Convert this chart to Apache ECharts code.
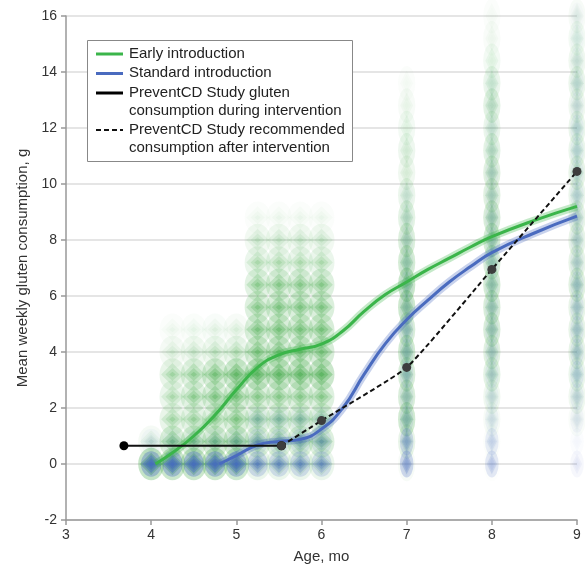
<!DOCTYPE html>
<html lang="en">
<head>
<meta charset="utf-8">
<title>Mean weekly gluten consumption</title>
<style>
  html, body { margin: 0; padding: 0; background: #fff; }
  #chart { width: 585px; height: 569px; }
</style>
</head>
<body>
<div id="chart"></div>
<script src="https://cdn.jsdelivr.net/npm/echarts@6/dist/echarts.min.js"></script>
<script>
  // fitted mean curves, g per week by age in months
  var earlyAge = [4.05, 4.25, 4.5, 4.75, 5, 5.25, 5.5, 5.75, 6, 6.25, 6.5, 6.75, 7, 7.25, 7.5, 7.75, 8, 8.5, 9];
  var earlyMean = [0, 0.4, 1.0, 1.75, 2.65, 3.45, 3.9, 4.1, 4.28, 4.75, 5.45, 6.05, 6.5, 6.95, 7.35, 7.75, 8.12, 8.7, 9.2];
  var standardAge = [4.8, 5, 5.25, 5.5, 5.75, 6, 6.25, 6.5, 6.75, 7, 7.25, 7.5, 7.75, 8, 8.5, 9];
  var standardMean = [0, 0.3, 0.68, 0.8, 0.88, 1.25, 2.0, 3.2, 4.3, 5.15, 5.85, 6.5, 7.05, 7.55, 8.25, 8.85];

  // PreventCD study amounts
  var duringAge = [3.68, 5.53];
  var duringAmount = [0.65, 0.65];
  var afterAge = [5.53, 6, 7, 8, 9];
  var afterAmount = [0.65, 1.55, 3.45, 6.95, 10.45];

  // density of individual intakes: weight per consumption level
  var levels = [0, 0.8, 1.6, 2.4, 3.2, 4.0, 4.8, 5.6, 6.4, 7.2, 8.0, 8.8, 9.6, 10.4, 11.2, 12.0, 12.8, 13.6, 14.4, 15.2, 16.0];
  var infantBins = [4, 4.25, 4.5, 4.75, 5, 5.25, 5.5, 5.75, 6];
  var earlyInfant = [
    [0.9, 0.15],
    [0.8, 0.55, 0.35, 0.3, 0.35, 0.15, 0.06],
    [0.8, 0.55, 0.4, 0.45, 0.45, 0.2, 0.08],
    [0.8, 0.6, 0.45, 0.55, 0.6, 0.25, 0.1],
    [0.75, 0.65, 0.55, 0.6, 0.75, 0.3, 0.12],
    [0.3, 0.5, 0.45, 0.5, 0.8, 0.6, 0.55, 0.5, 0.45, 0.3, 0.2, 0.06],
    [0.3, 0.5, 0.45, 0.5, 0.8, 0.65, 0.6, 0.55, 0.5, 0.3, 0.2, 0.06],
    [0.3, 0.5, 0.45, 0.5, 0.8, 0.65, 0.6, 0.55, 0.5, 0.3, 0.2, 0.06],
    [0.3, 0.5, 0.45, 0.5, 0.8, 0.6, 0.6, 0.55, 0.5, 0.3, 0.2, 0.06]
  ];
  var standardInfant = [
    [1.0, 0.1],
    [1.0, 0.1],
    [1.0, 0.1],
    [1.0, 0.12],
    [0.95, 0.15],
    [0.6, 0.3, 0.15],
    [0.55, 0.3, 0.15],
    [0.55, 0.3, 0.15],
    [0.5, 0.3, 0.15]
  ];
  var toddlerBins = [7, 8, 9];
  var earlyToddler = [
    [0.1, 0.3, 0.6, 0.5, 0.5, 0.6, 0.5, 0.65, 0.7, 0.55, 0.45, 0.35, 0.25, 0.2, 0.22, 0.15, 0.1, 0.06],
    [0.03, 0.05, 0.1, 0.2, 0.35, 0.4, 0.5, 0.5, 0.55, 0.5, 0.55, 0.5, 0.4, 0.4, 0.35, 0.25, 0.35, 0.25, 0.15, 0.08, 0.05],
    [0, 0, 0.08, 0.2, 0.25, 0.3, 0.3, 0.3, 0.4, 0.3, 0.3, 0.3, 0.25, 0.3, 0.25, 0.25, 0.2, 0.25, 0.2, 0.15, 0.1]
  ];
  var standardToddler = [
    [0.6, 0.5, 0.25, 0.2, 0.25, 0.25, 0.25, 0.2, 0.18, 0.15, 0.12, 0.1, 0.06],
    [0.35, 0.25, 0.15, 0.15, 0.2, 0.2, 0.2, 0.2, 0.2, 0.18, 0.18, 0.16, 0.14, 0.14, 0.1, 0.08, 0.06, 0.05],
    [0.12, 0.05, 0.12, 0.2, 0.25, 0.25, 0.25, 0.25, 0.25, 0.2, 0.2, 0.2, 0.2, 0.18, 0.18, 0.18, 0.14, 0.14, 0.1, 0.08, 0.06]
  ];

  var legendNames = [
    'Early introduction',
    'Standard introduction',
    'PreventCD Study gluten\nconsumption during intervention',
    'PreventCD Study recommended\nconsumption after intervention'
  ];

  var green = '#3bb54a';
  var blue = '#4a6bbf';
  var font = '"Liberation Sans", Arial, sans-serif';

  function zip(xs, ys) {
    return xs.map(function (x, i) { return [x, ys[i]]; });
  }

  function density(bins, weights) {
    var out = [];
    bins.forEach(function (b, i) {
      weights[i].forEach(function (w, j) {
        if (w > 0) out.push([b, levels[j], w]);
      });
    });
    return out;
  }

  var earlyDensity = density(infantBins, earlyInfant).concat(density(toddlerBins, earlyToddler));
  var standardDensity = density(infantBins, standardInfant).concat(density(toddlerBins, standardToddler));

  // contour-like look: stacked translucent shapes, largest first
  var layers = [
    { wide: [24, 30], narrow: [16, 32], alpha: 0.22, narrowAlpha: 0.26, symbol: 'circle' },
    { wide: [21, 21], narrow: [12, 24], alpha: 0.28, narrowAlpha: 0.26, symbol: 'diamond' },
    { wide: [13, 12], narrow: [8, 16], alpha: 0.32, narrowAlpha: 0.16, symbol: 'diamond' },
    { wide: [6, 5], narrow: [4, 7], alpha: 0.36, narrowAlpha: 0.1, symbol: 'diamond' }
  ];

  function densitySeries(data, rgb, scale) {
    return layers.map(function (l) {
      return {
        type: 'scatter',
        silent: true,
        symbol: l.symbol,
        data: data,
        symbolSize: function (v) {
          var s = v[0] > 6.5 ? l.narrow : l.wide;
          return [s[0] * scale, s[1] * scale];
        },
        itemStyle: {
          opacity: 1,
          color: function (p) {
            var base = p.value[0] > 6.5 ? l.narrowAlpha : l.alpha;
            var a = Math.min(1, 1.6 * base * p.value[2]);
            return 'rgba(' + rgb + ',' + a.toFixed(3) + ')';
          }
        },
        z: 1
      };
    });
  }

  function curve(data, color) {
    return [{
      type: 'line', data: data, smooth: true, showSymbol: false, silent: true, z: 2,
      lineStyle: { color: color, width: 8, opacity: 0.3 }
    }, {
      type: 'line', data: data, smooth: true, showSymbol: false, silent: true, z: 3,
      lineStyle: { color: color, width: 3 }
    }];
  }

  var series = []
    .concat(densitySeries(earlyDensity, '70,170,75', 1.08))
    .concat(densitySeries(standardDensity, '70,105,195', 0.85))
    .concat(curve(zip(earlyAge, earlyMean), green))
    .concat(curve(zip(standardAge, standardMean), blue))
    .concat([{
      type: 'line', data: zip(duringAge, duringAmount), z: 4,
      symbol: 'circle', symbolSize: 9,
      lineStyle: { color: '#111', width: 2 },
      itemStyle: { color: '#000' }
    }, {
      type: 'line', data: zip(afterAge, afterAmount), z: 4, smooth: 0.15,
      symbol: 'circle', symbolSize: 9,
      lineStyle: { color: '#111', width: 2, type: [5, 3] },
      itemStyle: { color: '#3d3d3d' }
    }]);

  // legend box drawn as graphic so icons sit on the first text line
  var legendRows = [
    { y: 54, color: green, dash: null },
    { y: 73.5, color: blue, dash: null },
    { y: 93, color: '#000', dash: null },
    { y: 130, color: '#111', dash: [5, 3] }
  ];
  var graphic = [{
    type: 'rect', shape: { x: 87.5, y: 40.5, width: 265, height: 121 },
    style: { fill: '#fff', stroke: '#888', lineWidth: 1 }, z: 100
  }];
  legendRows.forEach(function (r, i) {
    graphic.push({
      type: 'line', shape: { x1: 96, y1: r.y, x2: 123, y2: r.y },
      style: { stroke: r.color, lineWidth: r.dash ? 2 : 3, lineDash: r.dash }, z: 101
    });
    graphic.push({
      type: 'text', x: 129, y: r.y - 9.5, z: 101,
      style: { text: legendNames[i], fontSize: 15, fontFamily: font, fill: '#222', lineHeight: 18.5, verticalAlign: 'top' }
    });
  });

  var chart = echarts.init(document.getElementById('chart'));
  chart.setOption({
    animation: false,
    grid: { left: 66, right: 8, top: 16, bottom: 45 },
    xAxis: {
      type: 'value', min: 3, max: 9, interval: 1,
      name: 'Age, mo', nameLocation: 'middle', nameGap: 29,
      nameTextStyle: { fontSize: 15, fontFamily: font, color: '#333' },
      axisLine: { show: true, onZero: false, lineStyle: { color: '#999', width: 1.5 } },
      axisTick: { show: true, length: 5, lineStyle: { color: '#999', width: 1.5 } },
      axisLabel: { fontSize: 14, fontFamily: font, color: '#333', margin: 8 },
      splitLine: { show: false }
    },
    yAxis: {
      type: 'value', min: -2, max: 16, interval: 2,
      name: 'Mean weekly gluten consumption, g', nameLocation: 'middle', nameGap: 36,
      nameTextStyle: { fontSize: 15, fontFamily: font, color: '#333' },
      axisLine: { show: true, lineStyle: { color: '#999', width: 1.5 } },
      axisTick: { show: true, length: 5, lineStyle: { color: '#999', width: 1.5 } },
      axisLabel: { fontSize: 14, fontFamily: font, color: '#333', margin: 9 },
      splitLine: { show: true, lineStyle: { color: '#dcdcdc', width: 1.5 } }
    },
    series: series,
    graphic: graphic
  });
</script>
</body>
</html>
